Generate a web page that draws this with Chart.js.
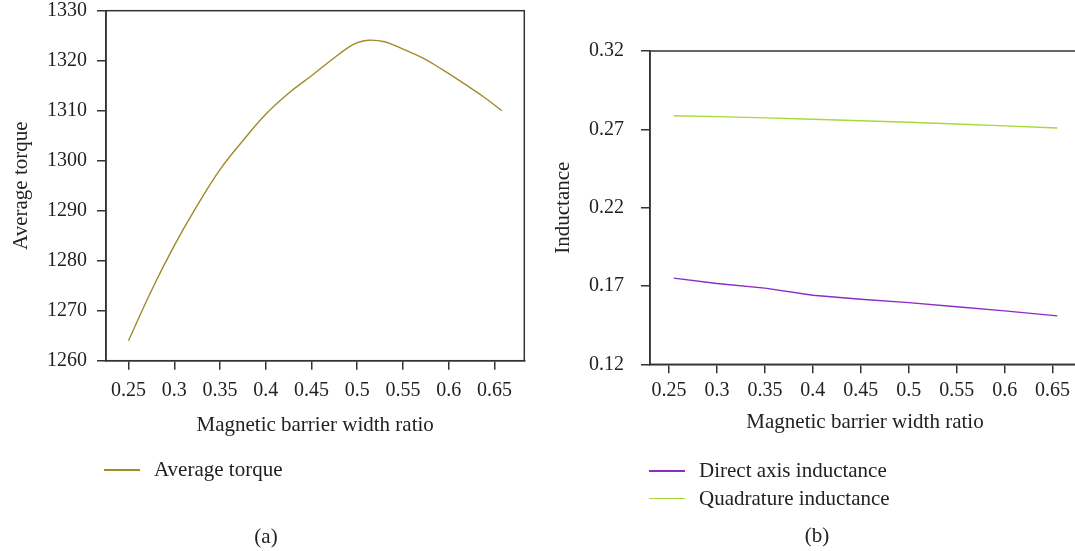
<!DOCTYPE html>
<html>
<head>
<meta charset="utf-8">
<script src="https://cdn.jsdelivr.net/npm/chart.js@4.4.0/dist/chart.umd.min.js"></script>
<style>
  html, body { margin: 0; padding: 0; background: #fff; overflow: hidden; width: 1075px; height: 551px; }
  body { position: relative; font-family: "Liberation Serif", serif; color: #222; }
  .box { position: absolute; top: 0; height: 551px; }
  #boxA { left: 0; width: 540px; }
  #boxB { left: 540px; width: 560px; }
  .legend { position: absolute; font-size: 21px; }
  .legend div { position: relative; height: 27.6px; line-height: 27.6px; white-space: nowrap; padding-left: 50px; }
  .legend .line { position: absolute; left: 0; top: 13px; width: 36px; height: 1.6px; }
  .cap { position: absolute; font-size: 21px; line-height: 24px; transform: translateX(-50%); }
</style>
</head>
<body>
<div class="box" id="boxA"><canvas id="chartA" width="540" height="551"></canvas></div>
<div class="box" id="boxB"><canvas id="chartB" width="560" height="551"></canvas></div>
<div class="legend" id="legendA" style="left:104px; top:456px;"></div>
<div class="legend" id="legendB" style="left:649px; top:457px;"></div>
<div class="cap" style="left:266px; top:524px;">(a)</div>
<div class="cap" style="left:817px; top:523px;">(b)</div>
<script>
// (a) average torque
const xTorque = [0.25, 0.275, 0.3, 0.325, 0.35, 0.375, 0.4, 0.425, 0.45, 0.475, 0.49, 0.5, 0.512, 0.53, 0.55, 0.572, 0.594, 0.616, 0.638, 0.658];
const torque = [1264, 1274, 1283, 1291, 1298.2, 1304, 1309.3, 1313.5, 1317, 1320.6, 1322.6, 1323.6, 1324.1, 1323.8, 1322.3, 1320.5, 1318.1, 1315.5, 1312.8, 1310];

// (b) inductances
const xInd = [0.255, 0.3, 0.35, 0.4, 0.45, 0.5, 0.55, 0.6, 0.655];
const directL = [0.1750, 0.1716, 0.1686, 0.1641, 0.1615, 0.1594, 0.1567, 0.1541, 0.1509];
const quadL = [0.2787, 0.2781, 0.2773, 0.2764, 0.2755, 0.2745, 0.2734, 0.2722, 0.2708];

// ticks
const xTicks = [0.25, 0.3, 0.35, 0.4, 0.45, 0.5, 0.55, 0.6, 0.65];
const xTickLabels = ['0.25', '0.3', '0.35', '0.4', '0.45', '0.5', '0.55', '0.6', '0.65'];
const yTicksA = [1260, 1270, 1280, 1290, 1300, 1310, 1320, 1330];
const yTicksB = [0.12, 0.17, 0.22, 0.27, 0.32];
const yTickLabelsB = ['0.12', '0.17', '0.22', '0.27', '0.32'];

const axisColor = '#333';
const textColor = '#222';
const tickFont = { family: '"Liberation Serif", serif', size: 20 };
const titleFont = { family: '"Liberation Serif", serif', size: 21 };

// box round the plot area
const frame = {
    id: 'frame',
    afterDraw(chart) {
        const { ctx, chartArea: a } = chart;
        ctx.save();
        ctx.strokeStyle = axisColor;
        ctx.lineWidth = 1.5;
        ctx.strokeRect(a.left, a.top, a.right - a.left, a.bottom - a.top);
        ctx.restore();
    }
};

function xAxis(min, max, tickPad, titlePad) {
    return {
        type: 'linear',
        min: min,
        max: max,
        afterBuildTicks: s => { s.ticks = xTicks.map(v => ({ value: v })); },
        afterFit: s => { s.height = 80; },
        ticks: { callback: (v, i) => xTickLabels[i], font: tickFont, color: textColor, padding: tickPad, maxRotation: 0, autoSkip: false },
        grid: { drawOnChartArea: false, tickLength: 9, color: axisColor, lineWidth: 1.5 },
        border: { color: axisColor, width: 1.5 },
        title: { display: true, text: 'Magnetic barrier width ratio', font: titleFont, color: textColor, padding: { top: 0, bottom: titlePad } }
    };
}

function yAxis(ticks, labels, min, max, width, tickPad, titleText, titlePad) {
    return {
        min: min,
        max: max,
        afterBuildTicks: s => { s.ticks = ticks.map(v => ({ value: v })); },
        afterFit: s => { s.width = width; s.paddingTop = 0; s.paddingBottom = 0; },
        ticks: { callback: (v, i) => labels[i], font: tickFont, color: textColor, padding: tickPad },
        grid: { drawOnChartArea: false, tickLength: 9, color: axisColor, lineWidth: 1.5 },
        border: { color: axisColor, width: 1.5 },
        title: { display: true, text: titleText, font: titleFont, color: textColor, padding: { top: titlePad, bottom: 0 } }
    };
}

function htmlLegend(chart, id) {
    const el = document.getElementById(id);
    el.innerHTML = '';
    chart.data.datasets.forEach(ds => {
        const row = document.createElement('div');
        const line = document.createElement('span');
        line.className = 'line';
        line.style.background = ds.borderColor;
        row.appendChild(line);
        row.appendChild(document.createTextNode(ds.label));
        el.appendChild(row);
    });
}

const chartA = new Chart(document.getElementById('chartA'), {
    type: 'line',
    data: {
        datasets: [{
            label: 'Average torque',
            data: xTorque.map((x, i) => ({ x: x, y: torque[i] })),
            borderColor: '#a08a2a',
            borderWidth: 1.4,
            pointRadius: 0,
            tension: 0.4,
            fill: false
        }]
    },
    options: {
        responsive: false,
        animation: false,
        devicePixelRatio: 1,
        layout: { padding: { left: 0, right: 15.7, top: 10.7, bottom: 110.3 } },
        plugins: { legend: { display: false }, tooltip: { enabled: false } },
        scales: {
            x: xAxis(0.2254, 0.6826, 9, 3.1),
            y: yAxis(yTicksA, yTicksA.map(String), 1260, 1330, 106, 10, 'Average torque', 8.4)
        }
    },
    plugins: [frame]
});

const chartB = new Chart(document.getElementById('chartB'), {
    type: 'line',
    data: {
        datasets: [{
            label: 'Direct axis inductance',
            data: xInd.map((x, i) => ({ x: x, y: directL[i] })),
            borderColor: '#8a2cc6',
            borderWidth: 1.4,
            pointRadius: 0,
            tension: 0,
            fill: false
        }, {
            label: 'Quadrature inductance',
            data: xInd.map((x, i) => ({ x: x, y: quadL[i] })),
            borderColor: '#a9d83a',
            borderWidth: 1.4,
            pointRadius: 0,
            tension: 0,
            fill: false
        }]
    },
    options: {
        responsive: false,
        animation: false,
        devicePixelRatio: 1,
        layout: { padding: { left: 0, right: 20, top: 51, bottom: 106.7 } },
        plugins: { legend: { display: false }, tooltip: { enabled: false } },
        scales: {
            x: xAxis(0.2302, 0.6786, 5, 9),
            y: yAxis(yTicksB, yTickLabelsB, 0.12, 0.32, 110, 17, 'Inductance', 10.4)
        }
    },
    plugins: [frame]
});

htmlLegend(chartA, 'legendA');
htmlLegend(chartB, 'legendB');
</script>
</body>
</html>
